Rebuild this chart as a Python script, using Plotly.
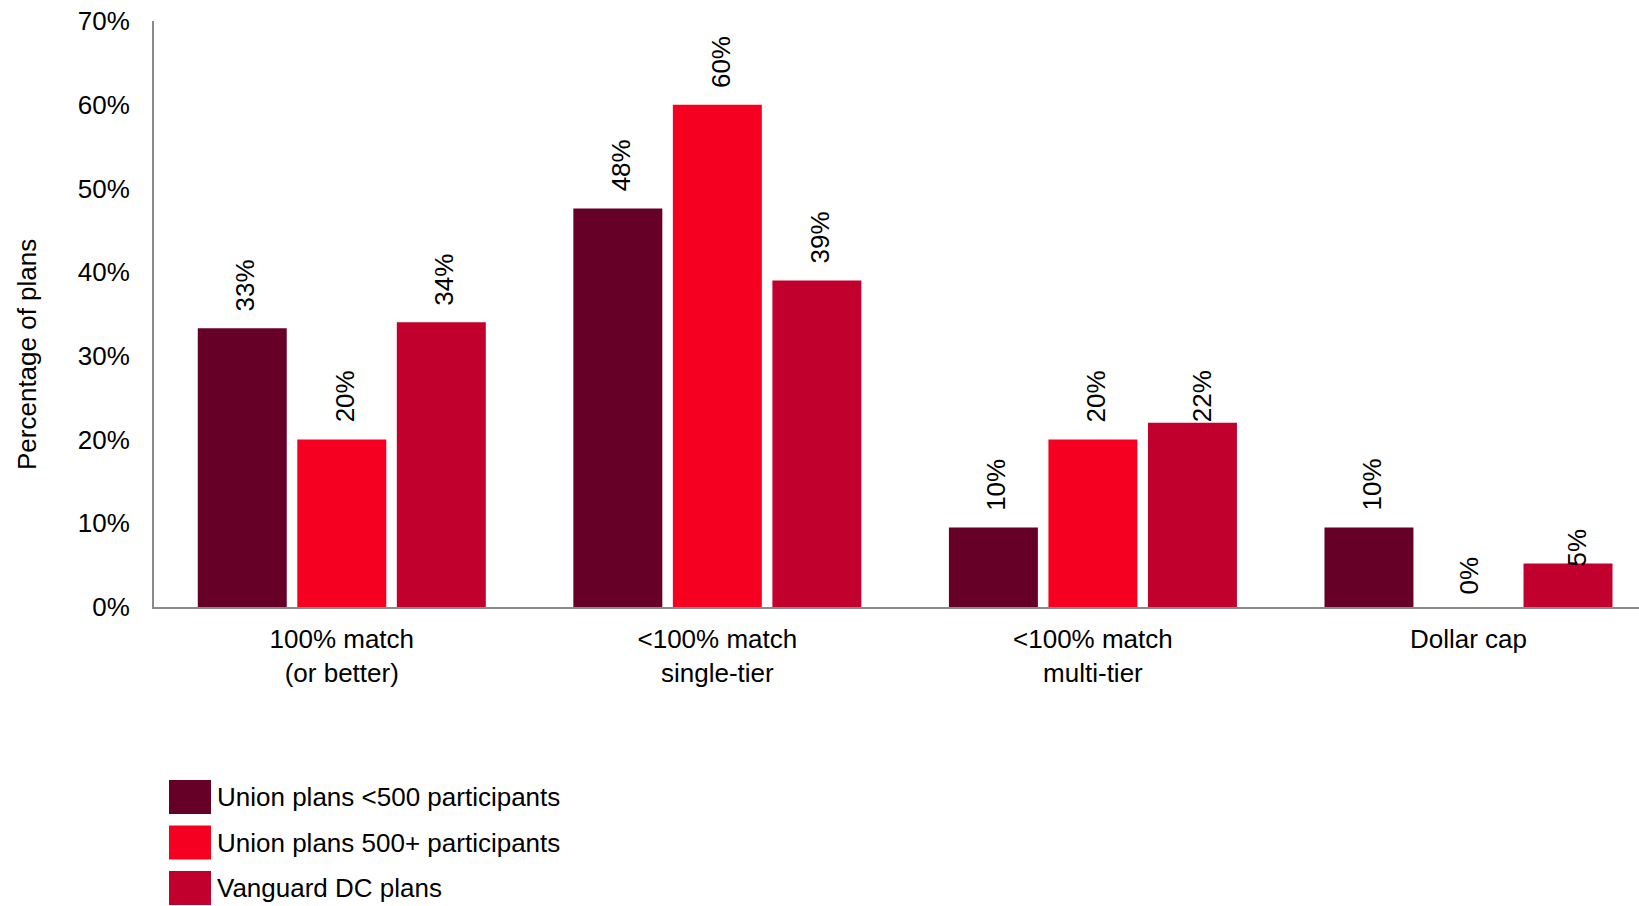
import plotly.graph_objects as go

categories = ["100% match<br>(or better)", "<100% match<br>single-tier", "<100% match<br>multi-tier", "Dollar cap"]
series_names = ["Union plans <500 participants", "Union plans 500+ participants", "Vanguard DC plans"]
union_small = [33.3, 47.6, 9.5, 9.5]
union_large = [20.0, 60.0, 20.0, 0.0]
vanguard = [34.0, 39.0, 22.0, 5.2]
label_text = [
    ["33%", "48%", "10%", "10%"],
    ["20%", "60%", "20%", "0%"],
    ["34%", "39%", "22%", "5%"],
]
y_ticks = [0, 10, 20, 30, 40, 50, 60, 70]
y_tick_text = ["0%", "10%", "20%", "30%", "40%", "50%", "60%", "70%"]
y_title = "Percentage of plans"

colors = ["#670027", "#F60022", "#C1002D"]
FONT = "Liberation Sans, Arial, sans-serif"

W, H = 1639, 906
ML, MR, MT, MB = 154, 0, 21, 299
# label nudges (dx px, dy px) for hand-placed labels in the original
nudges = {(2, 2): (6, -16), (2, 3): (6, -20), (1, 3): (-2, -4)}

values = [union_small, union_large, vanguard]
fig = go.Figure()
for i, (name, vals) in enumerate(zip(series_names, values)):
    fig.add_trace(go.Bar(
        x=list(range(len(categories))), y=vals, name=name,
        marker=dict(color=colors[i], line=dict(width=0)),
        showlegend=False,
    ))

BARGAP = 0.205
slot = (1 - BARGAP) / 3
annotations = []
for i, vals in enumerate(values):
    for j, v in enumerate(vals):
        dx, dy = nudges.get((i, j), (0, 0))
        annotations.append(dict(
            x=j + (i - 1) * slot, y=v, xref="x", yref="y",
            text=label_text[i][j], textangle=-90, showarrow=False,
            xanchor="center", yanchor="bottom",
            xshift=3 + dx, yshift=15 + dy,
            font=dict(family=FONT, size=26, color="#000000"),
        ))

pw = W - ML - MR
ph = H - MT - MB
def px_to_paper_x(px):
    return (px - ML) / pw
def px_to_paper_y(py):
    return (H - MB - py) / ph

# y-axis title (placed as in the original, below the plot-area centre)
annotations.append(dict(
    x=px_to_paper_x(27), y=px_to_paper_y(354), xref="paper", yref="paper",
    text=y_title, textangle=-90, showarrow=False,
    xanchor="center", yanchor="middle",
    font=dict(family=FONT, size=26, color="#000000"),
))

# custom legend with large swatches
shapes = []
leg_x0, leg_w, leg_h = 169, 42, 34
leg_centers = [797, 842.5, 888]
for i, name in enumerate(series_names):
    cy = leg_centers[i]
    shapes.append(dict(
        type="rect", xref="paper", yref="paper",
        x0=px_to_paper_x(leg_x0), x1=px_to_paper_x(leg_x0 + leg_w),
        y0=px_to_paper_y(cy + leg_h / 2), y1=px_to_paper_y(cy - leg_h / 2),
        fillcolor=colors[i], line=dict(width=0),
    ))
    annotations.append(dict(
        x=px_to_paper_x(leg_x0 + leg_w + 4), y=px_to_paper_y(cy),
        xref="paper", yref="paper", text=name, showarrow=False,
        xanchor="left", yanchor="middle",
        font=dict(family=FONT, size=26, color="#000000"),
    ))

fig.update_layout(
    width=W, height=H,
    margin=dict(l=ML, r=MR, t=MT, b=MB, pad=0),
    paper_bgcolor="white", plot_bgcolor="white",
    barmode="group", bargap=BARGAP, bargroupgap=0.106,
    font=dict(family=FONT, size=26, color="#000000"),
    annotations=annotations, shapes=shapes,
    showlegend=False,
)
fig.update_xaxes(
    tickmode="array", tickvals=list(range(len(categories))), ticktext=categories,
    range=[-0.5, 3.454], showgrid=False, zeroline=False,
    showline=True, linecolor="#8a8a8a", linewidth=2,
    ticks="", ticklabelstandoff=8,
    tickfont=dict(family=FONT, size=26, color="#000000"),
    automargin=False,
)
fig.update_yaxes(
    range=[0, 70], tickvals=y_ticks, ticktext=y_tick_text,
    showgrid=False, zeroline=False,
    showline=True, linecolor="#8a8a8a", linewidth=2,
    ticks="", ticklabelstandoff=17,
    tickfont=dict(family=FONT, size=26, color="#000000"),
    automargin=False,
)

fig.write_html("out.html")
